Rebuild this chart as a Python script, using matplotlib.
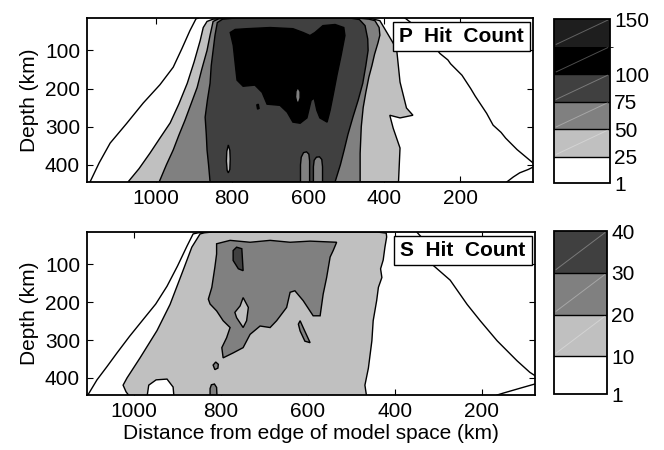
import matplotlib
matplotlib.use('Agg')
import matplotlib.pyplot as plt
from matplotlib.colors import ListedColormap, BoundaryNorm
from matplotlib.cm import ScalarMappable
from matplotlib.patches import Rectangle

plt.rcParams['font.family'] = ['Liberation Sans', 'DejaVu Sans']
plt.rcParams['font.size'] = 15

# ---- P hit count: contour outlines, (distance km, depth km) ----
p_c1_left_x = [888, 895, 911, 932, 955, 990, 1034, 1078, 1121, 1150, 1174, 1190]
p_c1_left_d = [15, 17, 48, 95, 144, 190, 238, 292, 343, 395, 445, 460]
p_c1_right_x = [345, 300, 253, 232, 225, 195, 172, 160, 130, 113, 92, 80, 50, 20, 8, 0, 20, 43, 60, 77]
p_c1_right_d = [15, 50, 108, 125, 135, 165, 200, 220, 265, 296, 315, 330, 360, 385, 395, 402, 412, 421, 432, 445]

p_c25_x = [805, 850, 866, 876, 884, 900, 918, 940, 963, 990, 1016, 1045, 1074,
           362, 358, 376, 385, 358, 324, 341, 358, 367, 411, 440]
p_c25_d = [15, 18, 24, 40, 74, 130, 186, 240, 290, 330, 369, 410, 445,
           445, 356, 304, 270, 277, 270, 251, 183, 96, 22, 15]

p_c50_x = [800, 835, 850, 858, 866, 880, 892, 908, 924, 940, 955, 973, 992,
           463, 463, 460, 455, 448, 440, 432, 425, 416, 411, 413, 424, 440, 470]
p_c50_d = [15, 17, 24, 60, 100, 150, 197, 240, 283, 322, 361, 400, 445,
           445, 370, 300, 250, 210, 170, 140, 110, 80, 60, 40, 22, 18, 15]

p_c75_x = [790, 825, 839, 845, 850, 855, 858, 865, 871, 868, 866, 862, 858,
           529, 515, 505, 495, 482, 468, 456, 448, 442, 443, 450, 465, 490]
p_c75_d = [15, 18, 27, 60, 100, 140, 186, 230, 275, 320, 361, 400, 445,
           445, 400, 361, 320, 275, 230, 186, 140, 100, 70, 35, 19, 15]

p_c100_x = [805, 797, 790, 787, 771, 740, 721, 708, 674, 655, 640, 621, 603, 592, 584,
            577, 569, 550, 542, 534, 524, 513, 503, 506, 529, 561, 582, 595, 613, 640,
            700, 761, 792]
p_c100_d = [53, 87, 152, 178, 194, 191, 210, 241, 244, 262, 288, 291, 277, 231, 225,
            257, 277, 288, 257, 217, 165, 113, 61, 40, 32, 35, 53, 61, 53, 43,
            40, 43, 45]

# counts below 75 reaching up from the bottom
p_drip1_x = [620, 620, 618, 612, 604, 598, 596, 596]
p_drip1_d = [450, 400, 380, 368, 366, 372, 390, 450]
p_drip2_x = [586, 586, 584, 578, 570, 564, 562, 562]
p_drip2_d = [450, 405, 388, 380, 379, 386, 405, 450]
p_gap_x = [810, 814, 815, 813, 810, 806, 805, 806]
p_gap_d = [348, 365, 390, 415, 421, 412, 385, 362]
p_hole_x = [627, 632, 633, 630, 625, 621, 621]
p_hole_d = [197, 207, 222, 235, 237, 225, 208]
p_speck_x = [735, 731, 729, 733]
p_speck_d = [243, 241, 252, 254]

# ---- S hit count ----
s_c1_left_x = [835, 852, 864, 878, 900, 924, 950, 979, 1010, 1039, 1062, 1085, 1106, 1120]
s_c1_left_d = [15, 17, 20, 52, 105, 158, 205, 246, 290, 334, 370, 405, 445, 460]
s_c1_right_x = [349, 330, 312, 273, 234, 204, 165, 119, 90, 70, 60, 112, 151, 165]
s_c1_right_d = [16, 40, 103, 142, 206, 249, 302, 355, 385, 400, 410, 427, 440, 445]

s_c10_x = [820, 838, 848, 867, 887, 917, 947, 986, 1016, 1025, 1018, 1009,
           970, 966, 949, 924, 910, 908,
           465, 469, 461, 453, 450, 442, 438, 430, 433, 427, 423, 419, 420, 440]
s_c10_d = [15, 17, 20, 55, 116, 206, 275, 347, 400, 419, 437, 450,
           450, 419, 405, 403, 424, 450,
           450, 419, 374, 302, 249, 196, 161, 135, 112, 89, 55, 28, 18, 15]

s_c20_x = [810, 779, 733, 687, 641, 595, 534, 542, 549, 557, 565, 572, 588, 611, 630,
           641, 649, 672, 687, 710, 733, 749, 772, 795, 798, 787, 779, 795, 810, 825,
           829, 821, 814, 810]
s_c20_d = [46, 37, 42, 37, 42, 39, 42, 64, 81, 135, 179, 236, 236, 196, 170,
           174, 214, 249, 267, 263, 285, 320, 334, 347, 320, 294, 267, 249, 223, 205,
           192, 161, 108, 73]

s_hole_x = [749, 737, 741, 749, 764, 768, 756]
s_hole_d = [188, 214, 249, 267, 241, 227, 210]
s_c30_x = [764, 752, 749, 760, 772, 772]
s_c30_d = [55, 59, 117, 112, 90, 64]
s_isl1_x = [618, 611, 595, 607, 618, 622]
s_isl1_d = [249, 267, 307, 303, 276, 258]
s_isl2_x = [812, 806, 807, 814, 818]
s_isl2_d = [358, 364, 374, 378, 366]
s_isl3_x = [809, 810, 815, 822, 825, 825]
s_isl3_d = [450, 425, 416, 418, 428, 450]

# colour levels
p_levels = [1, 25, 50, 75, 100, 125, 150]
p_ticks = [1, 25, 50, 75, 100, 150]
p_colors = ['white', '#c0c0c0', '#808080', '#404040', 'black', '#1e1e1e']
s_levels = [1, 10, 20, 30, 40]
s_ticks = [1, 10, 20, 30, 40]
s_colors = ['white', '#c0c0c0', '#808080', '#404040']

LIGHT, MID, DARK, BLACK = '#c0c0c0', '#808080', '#404040', 'black'
LW = 1.0

fig = plt.figure(figsize=(6.64, 4.5), dpi=100)
ax1 = fig.add_axes([0.131, 0.5956, 0.6717, 0.3644])
ax2 = fig.add_axes([0.131, 0.1222, 0.6747, 0.3622])
cax1 = fig.add_axes([0.8343, 0.5933, 0.0843, 0.3644])
cax2 = fig.add_axes([0.8343, 0.1244, 0.0798, 0.3622])


def patch(ax, x, d, color):
    ax.fill(x, d, facecolor=color, edgecolor='black', lw=LW, zorder=2)


# P panel
ax1.plot(p_c1_left_x, p_c1_left_d, color='black', lw=LW, zorder=2)
ax1.plot(p_c1_right_x, p_c1_right_d, color='black', lw=LW, zorder=2)
patch(ax1, p_c25_x, p_c25_d, LIGHT)
patch(ax1, p_c50_x, p_c50_d, MID)
patch(ax1, p_c75_x, p_c75_d, DARK)
patch(ax1, p_c100_x, p_c100_d, BLACK)
patch(ax1, p_drip1_x, p_drip1_d, MID)
patch(ax1, p_drip2_x, p_drip2_d, MID)
patch(ax1, p_gap_x, p_gap_d, LIGHT)
patch(ax1, p_hole_x, p_hole_d, MID)
patch(ax1, p_speck_x, p_speck_d, BLACK)

# S panel
ax2.plot(s_c1_left_x, s_c1_left_d, color='black', lw=LW, zorder=2)
ax2.plot(s_c1_right_x, s_c1_right_d, color='black', lw=LW, zorder=2)
patch(ax2, s_c10_x, s_c10_d, LIGHT)
patch(ax2, s_c20_x, s_c20_d, MID)
patch(ax2, s_hole_x, s_hole_d, LIGHT)
patch(ax2, s_c30_x, s_c30_d, DARK)
patch(ax2, s_isl1_x, s_isl1_d, MID)
patch(ax2, s_isl2_x, s_isl2_d, MID)
patch(ax2, s_isl3_x, s_isl3_d, MID)

ax1.set_xlim(1182, 8)
ax2.set_xlim(1108, 78)

for ax, name in [(ax1, 'P  Hit  Count'), (ax2, 'S  Hit  Count')]:
    ax.set_ylim(445, 15)
    ax.set_xticks([200, 400, 600, 800, 1000])
    ax.set_yticks([100, 200, 300, 400])
    ax.set_ylabel('Depth (km)')
    ax.tick_params(direction='in', top=True, right=True, length=4, width=0.8, pad=5)
    for s in ax.spines.values():
        s.set_linewidth(1.3)
        s.set_zorder(5)
    ax.add_patch(Rectangle((0.685, 0.80), 0.308, 0.175, transform=ax.transAxes,
                           facecolor='white', edgecolor='black', lw=1.0, zorder=6))
    ax.text(0.839, 0.888, name, transform=ax.transAxes, ha='center', va='center',
            fontsize=15, fontweight='bold', zorder=7)

ax2.set_xlabel('Distance from edge of model space (km)', labelpad=2)


def colorbar(cax, levels, colors, ticks, edges):
    cmap = ListedColormap(colors)
    norm = BoundaryNorm(levels, cmap.N)
    cb = fig.colorbar(ScalarMappable(norm=norm, cmap=cmap), cax=cax,
                      boundaries=levels, spacing='proportional', ticks=ticks)
    cb.outline.set_linewidth(1.3)
    cax.tick_params(length=0, pad=3)
    cax.set_yticklabels([str(t) for t in ticks])
    for e in edges:
        cax.axhline(e, color='black', lw=1.0)
    # faint diagonal strokes across the shaded bands
    for lo, hi, c in zip(levels[:-1], levels[1:], colors):
        if c == 'white':
            continue
        cax.plot([0.04, 0.96], [lo + 0.08 * (hi - lo), hi - 0.04 * (hi - lo)],
                 color='white', alpha=0.3, lw=0.7, transform=cax.get_yaxis_transform())


colorbar(cax1, p_levels, p_colors, p_ticks, [25, 50, 75, 100])
colorbar(cax2, s_levels, s_colors, s_ticks, [10, 20, 30])

fig.savefig('out.png', dpi=100)
